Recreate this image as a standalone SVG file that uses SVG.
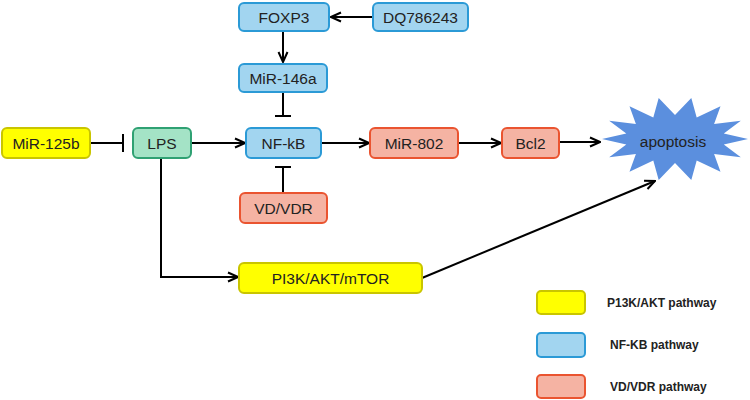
<svg xmlns="http://www.w3.org/2000/svg" width="750" height="400" viewBox="0 0 750 400">
<defs>
<marker id="arr" viewBox="0 0 12 12" refX="11" refY="6" markerWidth="12" markerHeight="12" markerUnits="userSpaceOnUse" orient="auto">
<path d="M1,1.5 L11,6 L1,10.5" fill="none" stroke="#000" stroke-width="2"/>
</marker>
<style>
.t{font-family:"Liberation Sans",Arial,sans-serif;font-size:15.5px;fill:#222;text-anchor:middle;dominant-baseline:central}
.lg{font-family:"Liberation Sans",Arial,sans-serif;font-size:12px;font-weight:bold;fill:#222}
.y{fill:#ffff00;stroke:#c9c500;stroke-width:2}
.b{fill:#a2d5f0;stroke:#2b9ad6;stroke-width:2}
.g{fill:#a4e3c6;stroke:#2fa173;stroke-width:2}
.r{fill:#f5b3a3;stroke:#ea5430;stroke-width:2}
.c{fill:none;stroke:#000;stroke-width:2}
</style>
</defs>
<g id="connectors">
<line class="c" x1="373" y1="17" x2="331" y2="17" marker-end="url(#arr)"/>
<line class="c" x1="283" y1="32" x2="283" y2="62" marker-end="url(#arr)"/>
<line class="c" x1="283" y1="92" x2="283" y2="116"/>
<line class="c" x1="275" y1="116" x2="291" y2="116"/>
<line class="c" x1="90" y1="143" x2="123" y2="143"/>
<line class="c" x1="123" y1="134" x2="123" y2="152"/>
<line class="c" x1="191" y1="143" x2="245" y2="143" marker-end="url(#arr)"/>
<line class="c" x1="283" y1="192" x2="283" y2="167"/>
<line class="c" x1="275" y1="167" x2="291" y2="167"/>
<line class="c" x1="321" y1="143" x2="369" y2="143" marker-end="url(#arr)"/>
<line class="c" x1="458" y1="143" x2="501" y2="143" marker-end="url(#arr)"/>
<line class="c" x1="559" y1="142" x2="600" y2="142" marker-end="url(#arr)"/>
<polyline class="c" points="161,158 161,277 238,277" marker-end="url(#arr)"/>
<line class="c" x1="422" y1="278" x2="655" y2="181" marker-end="url(#arr)"/>
</g>
<g id="FOXP3"><rect class="b" x="239" y="3" width="90" height="28" rx="5"/><text class="t" x="284" y="17">FOXP3</text></g>
<g id="DQ786243"><rect class="b" x="373" y="3" width="95" height="28" rx="5"/><text class="t" x="420.5" y="17">DQ786243</text></g>
<g id="MiR-146a"><rect class="b" x="239" y="64" width="88" height="28" rx="5"/><text class="t" x="283" y="78">MiR-146a</text></g>
<g id="MiR-125b"><rect class="y" x="2" y="128" width="88" height="30" rx="5"/><text class="t" x="46" y="143">MiR-125b</text></g>
<g id="LPS"><rect class="g" x="133" y="128" width="58" height="30" rx="5"/><text class="t" x="162" y="143">LPS</text></g>
<g id="NF-kB"><rect class="b" x="246" y="128" width="75" height="30" rx="5"/><text class="t" x="283.5" y="143">NF-kB</text></g>
<g id="VD-VDR"><rect class="r" x="240" y="193" width="87" height="30" rx="5"/><text class="t" x="283.5" y="208">VD/VDR</text></g>
<g id="MiR-802"><rect class="r" x="370" y="128" width="88" height="30" rx="5"/><text class="t" x="414" y="143">MiR-802</text></g>
<g id="Bcl2"><rect class="r" x="502" y="128" width="57" height="30" rx="5"/><text class="t" x="530.5" y="143">Bcl2</text></g>
<g id="apoptosis"><polygon fill="#5b8fde" points="748,139 723.8,144.4 740.8,157.2 714.1,154 720.5,171.8 696.7,160.6 691.3,180 675,163 658.7,180 653.3,160.6 629.5,171.8 635.9,154 609.2,157.2 626.3,144.4 602,139 626.3,133.6 609.2,120.8 635.9,124 629.5,106.2 653.3,117.4 658.7,98 675,115 691.3,98 696.7,117.4 720.5,106.2 714.1,124 740.8,120.8 723.8,133.6"/><text class="t" x="673" y="141">apoptosis</text></g>
<g id="PI3K-AKT-mTOR"><rect class="y" x="239" y="263" width="183" height="30" rx="5"/><text class="t" x="330.5" y="278">PI3K/AKT/mTOR</text></g>
<g id="legend">
<rect class="y" x="537" y="291" width="48" height="23" rx="4"/><text class="lg" x="607" y="307">P13K/AKT pathway</text>
<rect class="b" x="537" y="333" width="48" height="24" rx="4"/><text class="lg" x="610" y="349">NF-KB pathway</text>
<rect class="r" x="537" y="375" width="48" height="23" rx="4"/><text class="lg" x="610" y="391">VD/VDR pathway</text>
</g>
</svg>
